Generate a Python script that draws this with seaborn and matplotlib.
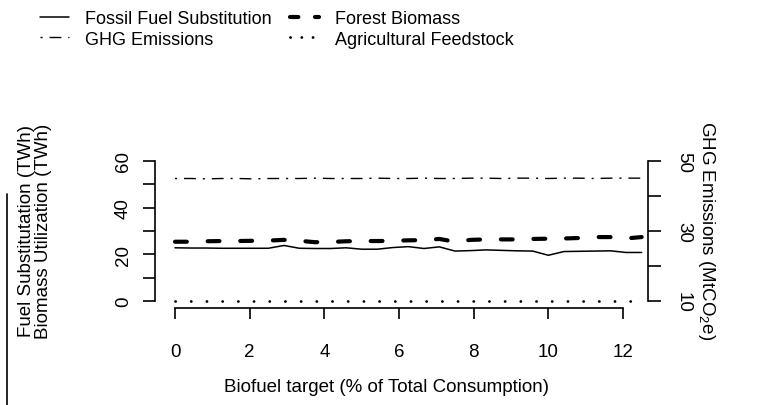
import numpy as np
import pandas as pd
import matplotlib
matplotlib.use("Agg")
import matplotlib.pyplot as plt
import seaborn as sns
from matplotlib.lines import Line2D

# ---- data ----
biofuel_target = [0.0, 0.42, 0.83, 1.25, 1.67, 2.08, 2.5, 2.92, 3.33, 3.75, 4.17,
                  4.58, 5.0, 5.42, 5.83, 6.25, 6.67, 7.08, 7.5, 7.92, 8.33, 8.75,
                  9.17, 9.58, 10.0, 10.42, 10.83, 11.25, 11.67, 12.08, 12.5]
fossil_sub = [22.8, 22.7, 22.7, 22.6, 22.6, 22.6, 22.6, 23.8, 22.6, 22.5, 22.5,
              22.8, 22.2, 22.2, 22.9, 23.3, 22.5, 23.2, 21.4, 21.6, 21.9, 21.7,
              21.5, 21.4, 19.6, 21.2, 21.3, 21.4, 21.5, 20.8, 20.8]
forest_biomass = [25.4, 25.4, 25.6, 25.7, 25.7, 25.8, 25.9, 26.2, 25.8, 25.2, 25.3,
                  25.6, 25.7, 25.7, 25.8, 26.0, 26.1, 26.6, 25.4, 26.2, 26.4, 26.4,
                  26.4, 26.6, 26.7, 26.8, 27.0, 27.4, 27.4, 26.8, 27.4]
ghg_emissions = [45.0, 45.0, 44.9, 45.0, 45.0, 44.9, 45.0, 45.0, 45.0, 45.1, 45.0,
                 45.0, 45.0, 45.1, 45.0, 45.0, 45.1, 45.0, 45.0, 45.1, 45.1, 45.0,
                 45.1, 45.1, 45.0, 45.1, 45.1, 45.0, 45.1, 45.1, 45.1]
agri_feedstock = [0.0] * 31

df = pd.DataFrame({"target": biofuel_target, "fossil": fossil_sub,
                   "forest": forest_biomass, "ghg": ghg_emissions,
                   "agri": agri_feedstock})

sns.set_style("ticks")
plt.rcParams["font.family"] = ["Liberation Sans", "DejaVu Sans"]
plt.rcParams["mathtext.default"] = "regular"
plt.rcParams["lines.scale_dashes"] = False
plt.rcParams["text.color"] = "black"

W, H = 757, 406
fig = plt.figure(figsize=(W / 100, H / 100), dpi=100)
ax = fig.add_axes([155 / W, 97 / H, 493 / W, 189 / H])
ax2 = ax.twinx()

solid = "-"
dashed = (0, (8.5, 15.0))
dotdash = (0, (1.5, 5.0, 8.5, 5.0))
dotted = (0, (0.1, 11.2))

sns.lineplot(data=df, x="target", y="fossil", ax=ax, color="black", lw=1.1,
             linestyle=solid)
sns.lineplot(data=df, x="target", y="forest", ax=ax, color="black", lw=3.0,
             linestyle=dashed, dash_capstyle="round")
sns.lineplot(data=df, x="target", y="agri", ax=ax, color="black", lw=2.0,
             linestyle=dotted, dash_capstyle="round")
sns.lineplot(data=df, x="target", y="ghg", ax=ax2, color="black", lw=1.0,
             linestyle=dotdash)

ax.set_xlim(-0.536, 12.67)
ax.set_ylim(-3, 78)
ax2.set_ylim(8, 62)

ax.set_xticks(range(0, 13, 2))
ax.set_xticklabels([str(v) for v in range(0, 13, 2)])
ax.set_yticks(range(0, 61, 10))
ax.set_yticklabels(["0", "", "20", "", "40", "", "60"], rotation=90, va="center")
ax2.set_yticks(range(10, 51, 10))
ax2.set_yticklabels(["10", "", "30", "", "50"], rotation=-90, va="center")

for s in ["top", "right"]:
    ax.spines[s].set_visible(False)
for s in ["top", "left", "bottom"]:
    ax2.spines[s].set_visible(False)
ax.spines["left"].set_bounds(0, 60)
ax.spines["bottom"].set_bounds(0, 12)
ax2.spines["right"].set_bounds(10, 50)
for sp in [ax.spines["left"], ax.spines["bottom"], ax2.spines["right"]]:
    sp.set_linewidth(1.2)
    sp.set_color("black")

ax.tick_params(axis="x", bottom=True, top=False, direction="out", length=8,
               width=1.2, pad=17, labelsize=13.5, colors="black")
ax.tick_params(axis="y", left=True, right=False, direction="out", length=8.5,
               width=1.2, pad=8, labelsize=13.5, colors="black")
ax2.tick_params(axis="y", right=True, left=False, direction="out", length=9.5,
                width=1.2, pad=10, labelsize=13.5, colors="black")
ax.set_xlabel("")
ax.set_ylabel("")
ax2.set_ylabel("")

fig.text(387 / W, 1 - 388 / H, "Biofuel target (% of Total Consumption)",
         ha="center", va="center", fontsize=13.5)
fig.text(27 / W, 1 - 231 / H, "Fuel Substitutation (TWh)", rotation=90,
         ha="center", va="center", fontsize=13.5)
fig.text(44 / W, 1 - 231 / H, "Biomass Utilization (TWh)", rotation=90,
         ha="center", va="center", fontsize=13.5)
fig.text(706 / W, 1 - 231 / H, "GHG Emissions (MtCO$_2$e)", rotation=-90,
         ha="center", va="center", fontsize=13.5)

# legend (column-wise order)
handles = [
    Line2D([], [], color="black", lw=1.1, linestyle=solid),
    Line2D([], [], color="black", lw=1.0, linestyle=dotdash),
    Line2D([], [], color="black", lw=3.0, linestyle=(0, (6, 12)),
           dash_capstyle="round"),
    Line2D([], [], color="black", lw=2.0, linestyle=(0, (0.1, 8)),
           dash_capstyle="round"),
]
labels = ["Fossil Fuel Substitution", "GHG Emissions", "Forest Biomass",
          "Agricultural Feedstock"]
fig.legend(handles, labels, ncol=2, loc="upper left",
           bbox_to_anchor=(40 / W, 1 - 11 / H), frameon=False, fontsize=13,
           handlelength=1.6, handletextpad=0.9, columnspacing=1.0,
           labelspacing=0.2, borderpad=0, borderaxespad=0)

# left edge of the outer box
fig.add_artist(Line2D([7 / W, 7 / W], [0, 1 - 195 / H], transform=fig.transFigure,
                      color="black", lw=1.2))

fig.savefig("out.png", dpi=100)
